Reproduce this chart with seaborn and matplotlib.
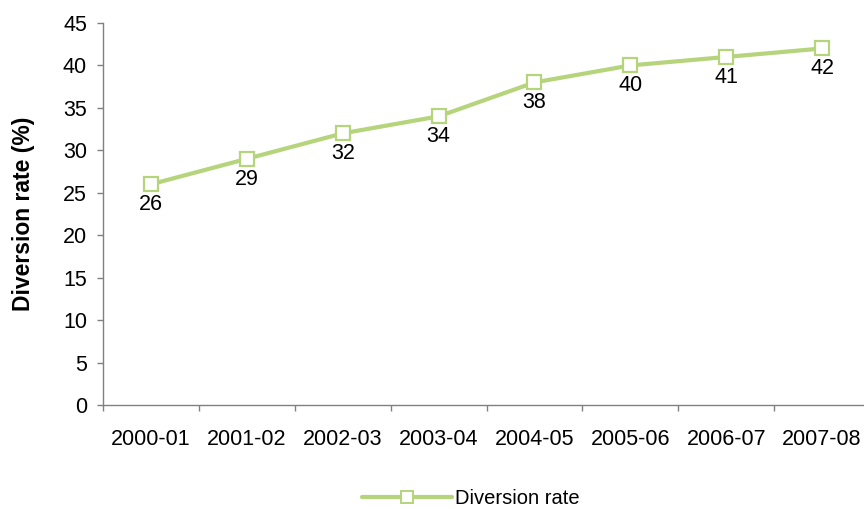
import matplotlib
matplotlib.use("Agg")
import matplotlib.pyplot as plt
import seaborn as sns
import pandas as pd
import numpy as np
from matplotlib.ticker import FixedLocator

years = ["2000-01", "2001-02", "2002-03", "2003-04", "2004-05", "2005-06", "2006-07", "2007-08"]
rates = [26, 29, 32, 34, 38, 40, 41, 42]
series_name = "Diversion rate"

sns.set_style("white")
plt.rcParams['font.family'] = ['Liberation Sans', 'DejaVu Sans']
plt.rcParams['text.color'] = 'black'
plt.rcParams['axes.labelcolor'] = 'black'
plt.rcParams['xtick.labelcolor'] = 'black'
plt.rcParams['ytick.labelcolor'] = 'black'

df = pd.DataFrame({"year": years, "rate": rates, "series": series_name})
df["x"] = np.arange(len(years))

fig = plt.figure(figsize=(8.64, 5.09), dpi=100)
ax = fig.add_axes([103/864, 1-405/509, (870-103)/864, (405-23)/509])

color = "#B5D47C"
fs = 15.5
sns.lineplot(data=df, x="x", y="rate", hue="series", palette=[color], ax=ax,
             linewidth=3, marker="s", markersize=10, markerfacecolor="white",
             markeredgecolor=color, markeredgewidth=1.6, clip_on=False)

for xi, v in zip(df["x"], df["rate"]):
    ax.annotate(str(v), (xi, v), xytext=(0, -7), textcoords="offset points",
                ha="center", va="top", fontsize=fs, color="black")

ax.set_xlim(-0.5, len(years) - 0.5)
ax.set_ylim(0, 45)
ax.set_yticks(np.arange(0, 46, 5))
ax.set_xticks(df["x"])
ax.set_xticklabels(years, fontsize=fs, color="black")
ax.xaxis.set_minor_locator(FixedLocator(np.arange(-0.5, len(years), 1)))
ax.tick_params(axis="x", which="major", length=0, pad=17, labelcolor="black")
ax.tick_params(axis="x", which="minor", length=4.5, width=1, color="#808080", direction="out", bottom=True)
ax.tick_params(axis="y", length=4.5, width=1, color="#808080", direction="out", left=True,
               labelsize=fs, pad=7, labelcolor="black")

for s in ["top", "right"]:
    ax.spines[s].set_visible(False)
for s in ["left", "bottom"]:
    ax.spines[s].set_color("#808080")
    ax.spines[s].set_linewidth(1)

ax.set_xlabel("")
ax.set_ylabel("Diversion rate (%)", fontsize=16.5, fontweight="bold", labelpad=20, color="black")

ax.legend_.remove()
handles, labels = ax.get_legend_handles_labels()
leg = fig.legend(handles, labels, loc="center", bbox_to_anchor=(0.545, 1-499/509),
                 frameon=False, fontsize=14.5, handlelength=4.5, handletextpad=0.15)
for t in leg.get_texts():
    t.set_color("black")
for h in leg.legend_handles:
    try:
        h.set_markersize(8)
        h.set_markeredgewidth(1.4)
    except AttributeError:
        pass

fig.savefig("out.png", dpi=100)
